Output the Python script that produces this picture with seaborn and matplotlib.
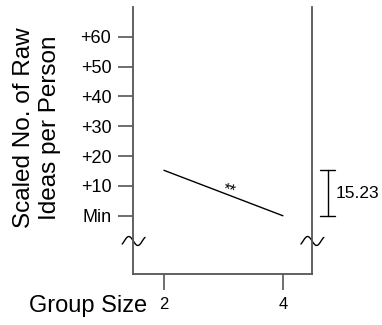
import numpy as np
import pandas as pd
import matplotlib
matplotlib.use("Agg")
import matplotlib.pyplot as plt
import seaborn as sns

# Data
group_sizes = [2, 4]
scaled_ideas = [15.23, 0.0]
effect_size = 15.23
y_ticks = [0, 10, 20, 30, 40, 50, 60]
y_tick_labels = ["Min", "+10", "+20", "+30", "+40", "+50", "+60"]
x_ticks = [2, 4]
x_tick_labels = ["2", "4"]

sns.set_theme(style="ticks")
plt.rcParams["font.family"] = ["Liberation Sans", "DejaVu Sans"]

axis_color = "#555555"

fig = plt.figure(figsize=(3.82, 3.25), dpi=100)
ax = fig.add_axes([0.349, 0.157, 0.468, 0.822])

df = pd.DataFrame({"size": group_sizes, "ideas": scaled_ideas})
sns.lineplot(data=df, x="size", y="ideas", ax=ax, color="black", linewidth=1.0)

ax.set_xlim(1.485, 4.49)
ax.set_ylim(-19.5, 70)

ax.set_yticks(y_ticks)
ax.set_yticklabels(y_tick_labels)
ax.set_xticks(x_ticks)
ax.set_xticklabels(x_tick_labels)
ax.set_xlabel("")
ax.set_ylabel("")

for side in ["left", "right", "bottom"]:
    ax.spines[side].set_color(axis_color)
    ax.spines[side].set_linewidth(1.3)
ax.spines["top"].set_visible(False)

ax.tick_params(axis="y", direction="out", length=10.8, width=1.2,
               color=axis_color, pad=5, labelsize=13, labelcolor="black")
ax.tick_params(axis="x", direction="out", length=11.5, width=1.2,
               color=axis_color, pad=5, labelsize=12, labelcolor="black")

# Axis-break squiggles on both vertical axes
x0, x1 = ax.get_xlim()
break_y = -8.45
period = 0.3025
amp = 1.5
t = np.linspace(-0.62, 0.65, 80)
for xc in (x0, x1):
    ax.plot(xc + t * period, break_y - amp * np.sin(2 * np.pi * t),
            color="black", linewidth=1.0, clip_on=False)

# Significance marker along the line
ax.text(3.076, 7.0, "**", fontsize=11.5, ha="center", va="baseline",
        rotation=-15, rotation_mode="anchor", color="black")

# Bracket showing the difference between group sizes
bx = 4.75
cap = 0.125
ax.plot([bx, bx], [0, effect_size], color="black", linewidth=1.0, clip_on=False)
ax.plot([bx - cap, bx + cap], [0, 0], color="black", linewidth=1.0, clip_on=False)
ax.plot([bx - cap, bx + cap], [effect_size, effect_size], color="black",
        linewidth=1.0, clip_on=False)
ax.text(bx + 0.14, effect_size / 2, f"{effect_size:.2f}", fontsize=12.5,
        ha="left", va="center", color="black", clip_on=False)

fig.text(37 / 382, 1 - 128 / 325, "Scaled No. of Raw\nIdeas per Person",
         rotation=90, ha="center", va="center", multialignment="center",
         fontsize=17.5, color="black")
fig.text(147 / 382, 1 - 312 / 325, "Group Size", ha="right", va="baseline",
         fontsize=17, color="black")

fig.savefig("out.png", dpi=100)
